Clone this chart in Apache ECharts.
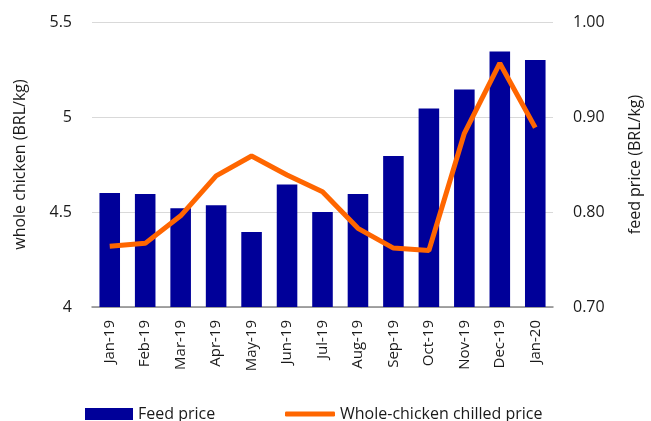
<!DOCTYPE html>
<html>
<head>
<meta charset="utf-8">
<script src="https://cdn.jsdelivr.net/npm/echarts@6/dist/echarts.min.js"></script>
<style>
  html, body { margin: 0; padding: 0; background: #fff; }
  #chart { width: 651px; height: 421px; }
</style>
</head>
<body>
<div id="chart"></div>
<script>
// values
const months = ['Jan-19', 'Feb-19', 'Mar-19', 'Apr-19', 'May-19', 'Jun-19', 'Jul-19',
  'Aug-19', 'Sep-19', 'Oct-19', 'Nov-19', 'Dec-19', 'Jan-20'];
const feedPrice = [0.820, 0.819, 0.804, 0.807, 0.779, 0.829, 0.800, 0.819, 0.859, 0.909, 0.929, 0.969, 0.960];
const chickenPrice = [4.32, 4.335, 4.48, 4.69, 4.795, 4.695, 4.607, 4.414, 4.31, 4.297, 4.914, 5.283, 4.944];
const leftTicks = { min: 4, max: 5.5, step: 0.5 };
const rightTicks = { min: 0.7, max: 1.0, step: 0.1 };

const FONT = '"Open Sans", "Noto Sans", sans-serif';
const NAVY = '#000099';
const ORANGE = '#FF6600';
const INK = '#1a1a1a';

const chart = echarts.init(document.getElementById('chart'), null, { renderer: 'canvas' });

chart.setOption({
  animation: false,
  textStyle: { fontFamily: FONT, color: INK },
  grid: { left: 92, right: 93, top: 22, bottom: 114 },
  legend: [
    {
      data: [{ name: 'Feed price', icon: 'rect' }],
      left: 80, top: 401,
      itemWidth: 48, itemHeight: 12, itemGap: 5,
      textStyle: { fontFamily: FONT, fontSize: 16, color: INK }
    },
    {
      data: [{ name: 'Whole-chicken chilled price', icon: 'roundRect' }],
      left: 280, top: 401,
      itemWidth: 50, itemHeight: 5, itemGap: 4,
      textStyle: { fontFamily: FONT, fontSize: 16, color: INK }
    }
  ],
  xAxis: {
    type: 'category',
    data: months,
    axisLine: { lineStyle: { color: '#888', width: 1.5 } },
    axisTick: { show: false },
    axisLabel: { rotate: 90, fontSize: 15, color: INK, margin: 13, fontFamily: FONT }
  },
  yAxis: [
    {
      type: 'value',
      min: leftTicks.min, max: leftTicks.max, interval: leftTicks.step,
      name: 'whole chicken (BRL/kg)',
      nameLocation: 'middle', nameGap: 64, nameRotate: 90,
      nameTextStyle: { fontSize: 16, color: INK, fontFamily: FONT },
      axisLine: { show: false }, axisTick: { show: false },
      axisLabel: { fontSize: 16, color: INK, margin: 20, fontFamily: FONT },
      splitLine: { lineStyle: { color: '#d9d9d9', width: 1 } }
    },
    {
      type: 'value',
      min: rightTicks.min, max: rightTicks.max, interval: rightTicks.step,
      name: 'feed price (BRL/kg)',
      nameLocation: 'middle', nameGap: 74, nameRotate: 90,
      nameTextStyle: { fontSize: 16, color: INK, fontFamily: FONT },
      axisLine: { show: false }, axisTick: { show: false },
      axisLabel: { fontSize: 16, color: INK, margin: 20, fontFamily: FONT,
        formatter: v => v.toFixed(2) },
      splitLine: { show: false }
    }
  ],
  series: [
    {
      name: 'Feed price',
      type: 'bar',
      yAxisIndex: 1,
      data: feedPrice,
      barWidth: '58%',
      itemStyle: { color: NAVY }
    },
    {
      name: 'Whole-chicken chilled price',
      type: 'line',
      yAxisIndex: 0,
      data: chickenPrice,
      symbol: 'none',
      lineStyle: { color: ORANGE, width: 5 },
      itemStyle: { color: ORANGE }
    }
  ]
});
</script>
</body>
</html>
